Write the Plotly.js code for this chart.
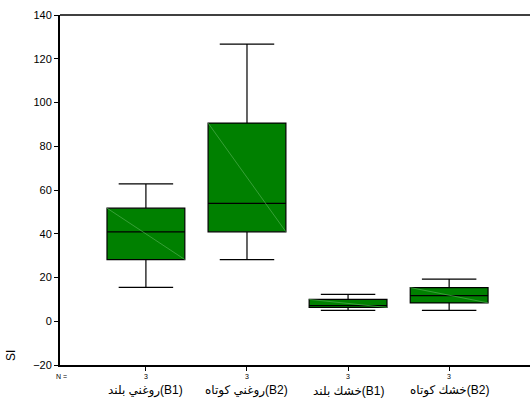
<!DOCTYPE html>
<html>
<head>
<meta charset="utf-8">
<script src="https://cdn.plot.ly/plotly-3.0.1.min.js"></script>
<style>html,body{margin:0;padding:0;background:#fff;}#chart{width:530px;height:402px;}</style>
</head>
<body>
<div id="chart"></div>
<script>
// Data
var categories = ["روغني بلند(B1)", "روغني كوتاه(B2)", "خشك بلند(B1)", "خشك كوتاه(B2)"];
var nValues = [3, 3, 3, 3];
var lowerWhisker = [15.5, 28.2, 5.0, 5.0];
var q1Values = [28.2, 40.9, 6.3, 8.4];
var medianValues = [40.9, 53.9, 7.2, 11.7];
var q3Values = [51.7, 90.6, 10.0, 15.4];
var upperWhisker = [62.8, 126.7, 12.3, 19.3];
var yTicks = [-20, 0, 20, 40, 60, 80, 100, 120, 140];

var positions = categories.map(function (c, i) { return i; });
var boxWidth = 0.77;

var trace = {
  type: 'box',
  x: positions,
  q1: q1Values,
  median: medianValues,
  q3: q3Values,
  lowerfence: lowerWhisker,
  upperfence: upperWhisker,
  width: boxWidth,
  whiskerwidth: 0.7,
  boxpoints: false,
  fillcolor: '#008000',
  line: {color: '#000000', width: 1.2},
  hoverinfo: 'skip',
  showlegend: false
};

var shapes = [];
positions.forEach(function (p, i) {
  shapes.push({
    type: 'line', xref: 'x', yref: 'y', layer: 'above',
    x0: p - boxWidth / 2, x1: p + boxWidth / 2,
    y0: q3Values[i], y1: q1Values[i],
    line: {color: '#4fae4f', width: 0.7}
  });
});
shapes.push({
  type: 'line', xref: 'paper', yref: 'paper', x0: 0, x1: 1, y0: 1, y1: 1,
  line: {color: '#000', width: 1.5}
});

var annotations = [];
positions.forEach(function (p, i) {
  annotations.push({
    xref: 'x', yref: 'paper', x: p, y: -0.032, yanchor: 'middle', xanchor: 'center',
    text: String(nValues[i]), showarrow: false,
    font: {family: 'Liberation Sans, Arial, sans-serif', size: 7, color: '#000'}
  });
  annotations.push({
    xref: 'x', yref: 'paper', x: p, y: -0.074, yanchor: 'middle', xanchor: 'center',
    text: categories[i], showarrow: false,
    font: {family: 'Liberation Sans, Arial, DejaVu Sans, sans-serif', size: 12, color: '#000'}
  });
});
annotations.push({
  xref: 'paper', yref: 'paper', x: 0.003, y: -0.032, xanchor: 'center', yanchor: 'middle',
  text: 'N =', showarrow: false,
  font: {family: 'Liberation Sans, Arial, sans-serif', size: 7, color: '#000'}
});
annotations.push({
  xref: 'paper', yref: 'paper', x: -0.104, y: 0.026, xanchor: 'center', yanchor: 'middle',
  text: 'SI', textangle: -90, showarrow: false,
  font: {family: 'Liberation Sans, Arial, sans-serif', size: 12, color: '#000'}
});

var layout = {
  width: 530, height: 402,
  margin: {l: 60, r: 0, t: 15, b: 37},
  paper_bgcolor: '#fff', plot_bgcolor: '#fff',
  showlegend: false,
  xaxis: {
    type: 'linear', range: [-0.85, 3.80],
    tickvals: positions, showticklabels: false,
    ticks: 'outside', ticklen: 4, tickwidth: 1, tickcolor: '#000',
    showgrid: false, zeroline: false,
    showline: true, linecolor: '#000', linewidth: 2,
    fixedrange: true
  },
  yaxis: {
    range: [-20, 140], tickvals: yTicks,
    ticks: 'outside', ticklen: 4, tickwidth: 1, tickcolor: '#000',
    tickfont: {family: 'Liberation Sans, Arial, sans-serif', size: 11, color: '#000'},
    showgrid: false, zeroline: false,
    showline: true, linecolor: '#000', linewidth: 2,
    fixedrange: true
  },
  shapes: shapes,
  annotations: annotations
};

Plotly.newPlot('chart', [trace], layout, {displayModeBar: false, staticPlot: true});
</script>
</body>
</html>
